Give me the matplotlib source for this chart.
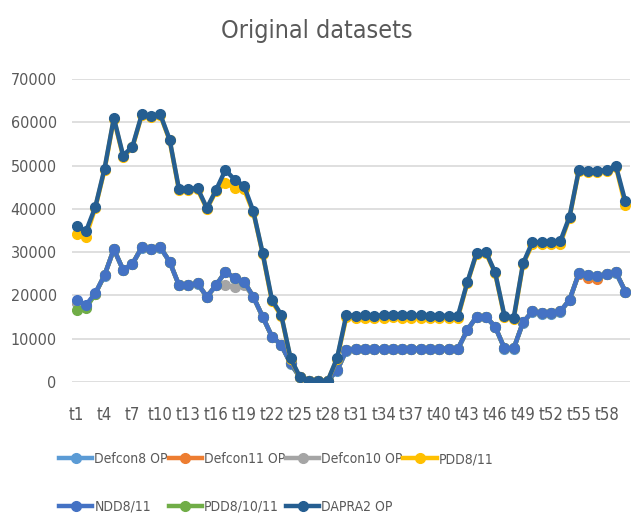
import matplotlib
matplotlib.use("Agg")
import matplotlib.pyplot as plt
import numpy as np

# ---------------- data ----------------
categories = ["t%d" % i for i in range(1, 61)]

defcon8_op = [18200, 17300, 20300, 24600, 30600, 25800, 27200, 31000, 30700, 31000,
              27700, 22300, 22300, 22700, 19600, 22300, 25400, 23900, 23100, 19600,
              15000, 10400, 8500, 4200, 1100, 300, 200, 300, 2600, 7200,
              7600, 7600, 7600, 7600, 7600, 7600, 7600, 7600, 7600, 7600,
              7600, 7600, 11900, 15000, 15000, 12700, 7700, 7700, 13700, 16200,
              15800, 15800, 16200, 18900, 25000, 24600, 24300, 24900, 25200, 20800]

defcon11_op = [18500, 17500, 20400, 24700, 30700, 25900, 27300, 31100, 30800, 31100,
               27800, 22400, 22400, 22800, 19700, 22400, 25500, 24000, 23200, 19700,
               15100, 10500, 8600, 4300, 1200, 300, 200, 300, 2700, 7300,
               7700, 7700, 7700, 7700, 7700, 7700, 7700, 7700, 7700, 7700,
               7700, 7700, 12000, 15100, 15100, 12800, 7800, 7800, 13800, 16300,
               15900, 15900, 16300, 19000, 25000, 24000, 23900, 25000, 25300, 20900]

defcon10_op = [18400, 17500, 20400, 24700, 30700, 25900, 27300, 31100, 30800, 31100,
               27800, 22400, 22400, 22800, 19700, 22400, 22300, 22000, 22500, 19700,
               15100, 10500, 8600, 4300, 1200, 300, 200, 300, 2700, 7300,
               7700, 7700, 7700, 7700, 7700, 7700, 7700, 7700, 7700, 7700,
               7700, 7700, 12000, 15100, 15100, 12800, 7800, 7800, 13800, 16300,
               15900, 15900, 16300, 19000, 25100, 24700, 24400, 25000, 25300, 20900]

pdd8_11 = [34300, 33600, 40200, 49000, 60800, 52000, 54200, 61600, 61300, 61600,
           55800, 44300, 44300, 44500, 40000, 44100, 46000, 44800, 44500, 39200,
           29600, 18600, 15300, 5300, 1100, 300, 200, 300, 5300, 15000,
           14900, 14900, 14900, 14900, 15000, 14900, 14900, 14900, 14900, 14900,
           14900, 14900, 22800, 29600, 29900, 25100, 15000, 14600, 27200, 31800,
           31800, 31800, 31900, 38000, 48800, 48500, 48500, 48800, 49600, 40800]

ndd8_11 = [19000, 17800, 20500, 24700, 30700, 25900, 27300, 31100, 30800, 31100,
           27800, 22400, 22400, 22800, 19700, 22400, 25500, 24000, 23200, 19700,
           15100, 10500, 8600, 4300, 1200, 300, 200, 300, 2700, 7300,
           7700, 7700, 7700, 7700, 7700, 7700, 7700, 7700, 7700, 7700,
           7700, 7700, 12000, 15100, 15100, 12800, 7800, 7800, 13800, 16300,
           15900, 15900, 16300, 19000, 25100, 24700, 24400, 25000, 25300, 20900]

pdd8_10_11 = [16600, 17000, 20400, 24700, 30700, 25900, 27300, 31100, 30800, 31100,
              27800, 22400, 22400, 22800, 19700, 22400, 25500, 24000, 23200, 19700,
              15100, 10500, 8600, 4300, 1200, 300, 200, 300, 2700, 7300,
              7700, 7700, 7700, 7700, 7700, 7700, 7700, 7700, 7700, 7700,
              7700, 7700, 12000, 15100, 15100, 12800, 7800, 7800, 13800, 16300,
              15900, 15900, 16300, 19000, 25100, 24700, 24400, 25000, 25300, 20900]

dapra2_op = [36100, 34800, 40400, 49300, 61000, 52300, 54400, 61800, 61500, 61800,
             56000, 44600, 44600, 44800, 40200, 44400, 49000, 46700, 45300, 39400,
             29800, 19000, 15500, 5500, 1200, 300, 200, 300, 5500, 15500,
             15300, 15400, 15300, 15400, 15500, 15400, 15400, 15400, 15300, 15300,
             15300, 15300, 23000, 29800, 30100, 25300, 15300, 14900, 27400, 32300,
             32300, 32300, 32500, 38200, 49000, 48700, 48700, 49000, 49800, 41700]

series_names = ["Defcon8 OP", "Defcon11 OP", "Defcon10 OP", "PDD8/11",
                "NDD8/11", "PDD8/10/11", "DAPRA2 OP"]
series_values = [defcon8_op, defcon11_op, defcon10_op, pdd8_11,
                 ndd8_11, pdd8_10_11, dapra2_op]
series_colors = ["#5B9BD5", "#ED7D31", "#A5A5A5", "#FFC000",
                 "#4472C4", "#70AD47", "#255E91"]
series_z = [2.0, 2.1, 2.2, 2.5, 2.4, 2.3, 2.6]

yticks = [0, 10000, 20000, 30000, 40000, 50000, 60000, 70000]

# ---------------- figure ----------------
plt.rcParams["font.family"] = ["DejaVu Sans"]
plt.rcParams["font.stretch"] = "condensed"
TXT = "#595959"

fig = plt.figure(figsize=(6.33, 5.17), dpi=100)
ax = fig.add_axes([72 / 633, 1 - 382 / 517, (630 - 72) / 633, (382 - 79) / 517])

x = np.arange(len(categories))
handles = {}
for name, vals, col, z in zip(series_names, series_values, series_colors, series_z):
    h, = ax.plot(x, vals, color=col, lw=3.2, marker="o", ms=7,
                 markeredgecolor=col, markerfacecolor=col, zorder=z,
                 solid_joinstyle="round", label=name)
    handles[name] = h

ax.set_xlim(-0.5, len(categories) - 0.5)
ax.set_ylim(0, 70000)
ax.set_yticks(yticks)
ax.set_yticklabels([str(v) for v in yticks])
ax.set_xticks(x[::3])
ax.set_xticklabels(categories[::3])
ax.grid(axis="y", color="#D9D9D9", lw=1.2, zorder=0)
ax.set_axisbelow(True)
for s in ax.spines.values():
    s.set_visible(False)
ax.tick_params(axis="both", length=0, colors=TXT, labelsize=12)
ax.tick_params(axis="x", pad=17)
ax.tick_params(axis="y", pad=11, labelsize=11.5)

fig.text(0.5, 1 - 31 / 517, "Original datasets", ha="center", va="center",
         fontsize=18, color=TXT)

order = ["Defcon8 OP", "NDD8/11", "Defcon11 OP", "PDD8/10/11",
         "Defcon10 OP", "DAPRA2 OP", "PDD8/11"]
leg = fig.legend([handles[n] for n in order], order, ncol=4,
                 loc="center left", bbox_to_anchor=(59 / 633, 1 - 483 / 517),
                 frameon=False, fontsize=10, handlelength=2.4,
                 handletextpad=0.15, columnspacing=0.05, labelspacing=2.4,
                 borderaxespad=0, borderpad=0)
for t in leg.get_texts():
    t.set_color(TXT)

fig.savefig("out.png", dpi=100)
